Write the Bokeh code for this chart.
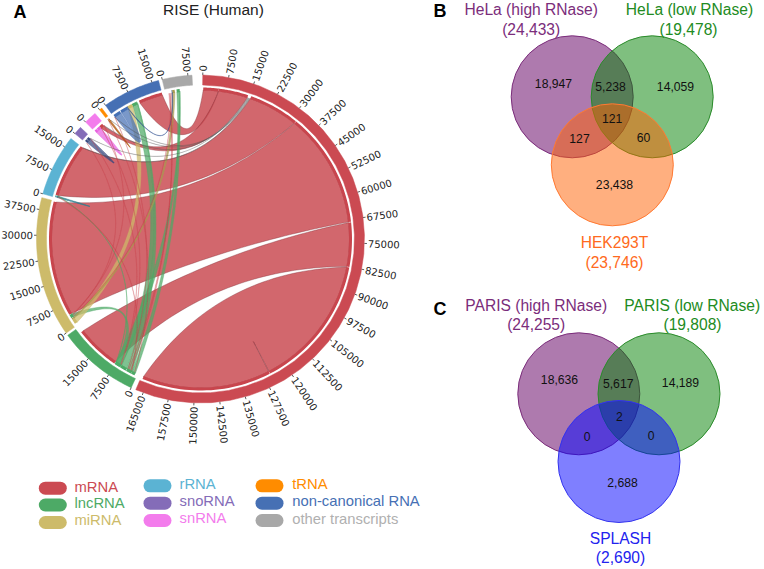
import math
from bokeh.plotting import figure
from bokeh.models import Range1d
from bokeh.core.properties import value
from bokeh.embed import file_html
from bokeh.resources import INLINE

# ---------- data ----------
SECTORS = ["mRNA", "lncRNA", "miRNA", "rRNA", "snoRNA", "snRNA", "tRNA", "non-canonical RNA", "other transcripts"]
SECTOR_SIZE = [167300, 24000, 41000, 18000, 2400, 3700, 800, 17000, 8700]
SECTOR_COLOR = ["#CB4A52", "#4DAA66", "#CDBB6A", "#5BB3D3", "#846CB8", "#F37CEC", "#FF8C00", "#4670B4", "#A8A8A8"]
TICKS = {
    "mRNA": [0, 7500, 15000, 22500, 30000, 37500, 45000, 52500, 60000, 67500, 75000, 82500, 90000, 97500, 105000,
             112500, 120000, 127500, 135000, 142500, 150000, 157500, 165000],
    "lncRNA": [0, 7500, 15000],
    "miRNA": [0, 7500, 15000, 22500, 30000, 37500],
    "rRNA": [0, 7500, 15000],
    "snoRNA": [0],
    "snRNA": [0],
    "tRNA": [0],
    "non-canonical RNA": [0, 7500, 15000],
    "other transcripts": [0, 7500],
}
RED, GRN, YEL, BLU = "#C8454D", "#4DAA66", "#CDBB6A", "#4670B4"
NC, OT = "non-canonical RNA", "other transcripts"
BIG_LINKS = [
    (NC, 9400, 17000, "mRNA", 200, 5100),
    ("snRNA", 2100, 3300, "mRNA", 5100, 14500),
    ("rRNA", 800, 18000, "mRNA", 15500, 31600),
    ("miRNA", 4100, 40800, "mRNA", 31700, 68300),
    ("lncRNA", 8000, 22300, "mRNA", 68500, 82500),
    ("mRNA", 82700, 125500, "mRNA", 125600, 166700),
]
SMALL_LINKS = [
    ("lncRNA", 3800, 5800, NC, 6900, 8600, GRN),
    ("lncRNA", 700, 1900, OT, 3600, 4500, GRN),
    ("lncRNA", 5800, 7900, OT, 4500, 4650, GRN),
    ("lncRNA", 1900, 3700, NC, 8600, 8750, GRN),
    ("miRNA", 2900, 4000, "lncRNA", 6300, 7600, GRN),
    ("miRNA", 800, 2400, NC, 5300, 6900, YEL),
    ("miRNA", 2400, 2800, OT, 2200, 3000, "#A89A50"),
    (NC, 300, 2600, NC, 2800, 5200, BLU),
    (NC, 5200, 5400, OT, 2000, 2200, "#2F4F90"),
    ("snRNA", 100, 900, "snRNA", 1000, 2100, "#E860E0"),
    ("tRNA", 100, 350, "tRNA", 400, 700, "#B05A10"),
    ("snoRNA", 300, 1000, "snoRNA", 1100, 1900, "#3A4A80"),
    ("rRNA", 100, 300, "rRNA", 350, 600, "#2F7F8F"),
    ("rRNA", 620, 720, "lncRNA", 7700, 7800, GRN),
]
HAIR_LINKS = [
    ("snoRNA", 1950, 2050, "mRNA", 14600, 14650, "#555555"),
    ("snRNA", 3350, 3450, "mRNA", 14800, 14850, "#555555"),
    ("tRNA", 700, 780, "mRNA", 15000, 15050, "#555555"),
    (NC, 100, 200, "mRNA", 15200, 15250, "#555555"),
    ("rRNA", 17900, 18000, "mRNA", 15350, 15400, "#555555"),
    (OT, 1000, 1150, "lncRNA", 2400, 2600, RED),
    (OT, 1300, 1450, "lncRNA", 3000, 3200, RED),
    (OT, 1700, 1800, "miRNA", 3000, 3100, RED),
    (NC, 200, 300, "lncRNA", 3400, 3500, RED),
    ("snRNA", 2200, 2300, "lncRNA", 5900, 6000, RED),
    ("snoRNA", 1950, 2050, "lncRNA", 6100, 6200, RED),
    ("snoRNA", 100, 200, "miRNA", 3400, 3500, RED),
    ("snRNA", 3400, 3500, "miRNA", 3600, 3700, RED),
    ("rRNA", 300, 500, "lncRNA", 2000, 2200, RED),
    ("tRNA", 50, 100, "lncRNA", 1000, 1100, RED),
]

VENN_B_TITLES = ["HeLa (high RNase)", "HeLa (low RNase)", "HEK293T"]
VENN_B_TOTALS = ["(24,433)", "(19,478)", "(23,746)"]
VENN_B_COUNTS = ["18,947", "5,238", "14,059", "121", "127", "60", "23,438"]
VENN_C_TITLES = ["PARIS (high RNase)", "PARIS (low RNase)", "SPLASH"]
VENN_C_TOTALS = ["(24,255)", "(19,808)", "(2,690)"]
VENN_C_COUNTS = ["18,636", "5,617", "14,189", "2", "0", "0", "2,688"]

# ---------- layout ----------
W, H = 764, 569
CX, CY = 200.0, 238.5
DEG_PER_UNIT = 0.00121
SECTOR_START = [0.8, 205.0, 235.0, 286.0, 310.0, 315.5, 322.0, 324.6, 346.5]
START = dict(zip(SECTORS, SECTOR_START))
R_OUT, R_IN, R_STRIP, R_LINK = 164.0, 154.0, 151.5, 149.0
SANS = value("Liberation Sans")


def th(sec, v):
    return START[sec] + v * DEG_PER_UNIT


def pt(t, r):
    a = math.radians(t)
    return CX + r * math.sin(a), CY - r * math.cos(a)


def arc(t0, t1, r, n=30):
    return [pt(t0 + (t1 - t0) * i / n, r) for i in range(n + 1)]


def bez(t0, t1, r, n=40):
    diff = (t1 - t0 + 540) % 360 - 180
    d = abs(diff)
    rc = 82 * (1 - d / 180)
    p0, p2 = pt(t0, r), pt(t1, r)
    c = pt(t0 + diff / 2, rc)
    out = []
    for i in range(n + 1):
        u = i / n
        out.append(((1 - u) ** 2 * p0[0] + 2 * u * (1 - u) * c[0] + u * u * p2[0],
                    (1 - u) ** 2 * p0[1] + 2 * u * (1 - u) * c[1] + u * u * p2[1]))
    return out


def ribbon(sa, a0, a1, sb, b0, b1):
    ta0, ta1, tb0, tb1 = th(sa, a0), th(sa, a1), th(sb, b0), th(sb, b1)
    pts = arc(ta0, ta1, R_LINK) + bez(ta1, tb0, R_LINK) + arc(tb0, tb1, R_LINK) + bez(tb1, ta0, R_LINK)
    return [q[0] for q in pts], [q[1] for q in pts]


def band(t0, t1, r0, r1):
    pts = arc(t0, t1, r1) + arc(t1, t0, r0)
    return [q[0] for q in pts], [q[1] for q in pts]


p = figure(width=W, height=H, x_range=Range1d(0, W), y_range=Range1d(H, 0),
           output_backend="svg", toolbar_location=None, min_border=0)
p.axis.visible = False
p.grid.visible = False
p.outline_line_color = None

# ---------- sectors ----------
xs, ys = zip(*[band(th(s, 0), th(s, z), R_IN, R_OUT) for s, z in zip(SECTORS, SECTOR_SIZE)])
p.patches(list(xs), list(ys), fill_color=SECTOR_COLOR, line_color=SECTOR_COLOR, line_width=0.5)

# ---------- links ----------
gx, gy = zip(*[ribbon(*l) for l in BIG_LINKS])
p.patches(list(gx), list(gy), fill_color=RED, fill_alpha=0.82, line_color="#7A2E34", line_alpha=0.6, line_width=0.6)
for group, alpha, lw in ((SMALL_LINKS, 0.72, 0.5), (HAIR_LINKS, 0.42, 0.5)):
    sx, sy = zip(*[ribbon(*l[:6]) for l in group])
    cols = [l[6] for l in group]
    p.patches(list(sx), list(sy), fill_color=cols, fill_alpha=alpha, line_color=cols, line_alpha=alpha, line_width=lw)

# strips at the link feet
sx, sy, sc = [], [], []
for l in BIG_LINKS + SMALL_LINKS:
    col = l[6] if len(l) > 6 else RED
    for s, v0, v1 in ((l[0], l[1], l[2]), (l[3], l[4], l[5])):
        bx, by = band(th(s, v0), th(s, v1), R_LINK - 0.5, R_STRIP)
        sx.append(bx); sy.append(by); sc.append(col)
p.patches(sx, sy, fill_color=sc, line_color=None)

# ---------- tick marks and labels ----------
mx0, my0, mx1, my1 = [], [], [], []
right = {"x": [], "y": [], "t": [], "a": []}
left = {"x": [], "y": [], "t": [], "a": []}
for s in SECTORS:
    for v in TICKS[s]:
        t = th(s, v)
        a0, a1 = pt(t, R_OUT), pt(t, R_OUT + 2.5)
        mx0.append(a0[0]); my0.append(a0[1]); mx1.append(a1[0]); my1.append(a1[1])
        lx, ly = pt(t, R_OUT + 3.5)
        tgt = right if t < 180 else left
        ang = 90 - t if t < 180 else 270 - t
        tgt["x"].append(lx); tgt["y"].append(ly); tgt["t"].append(str(v)); tgt["a"].append(math.radians(ang))
p.segment(mx0, my0, mx1, my1, line_color="#333333", line_width=0.8)
for d, al in ((right, "left"), (left, "right")):
    p.text(d["x"], d["y"], text=d["t"], angle=d["a"], text_align=al, text_baseline="middle",
           text_font=value("DejaVu Sans"), text_font_size="10px", text_color="#222222")


def label(x, y, s, color="#000000", size="15.6px", style="normal", align="center"):
    p.text([x], [y], text=[s], text_font=SANS, text_font_size=size, text_color=color, text_font_style=style,
           text_align=align, text_baseline="middle")


label(213, 9, "RISE (Human)", "#222222", "15.5px")
label(13, 11.5, "A", "#000000", "18px", "bold", "left")
label(433, 10.5, "B", "#000000", "18px", "bold", "left")
label(433, 308.5, "C", "#000000", "18px", "bold", "left")

# ---------- legend ----------
LEG_X = [38.3, 38.3, 38.3, 143, 143, 143, 255, 255, 255]
LEG_Y = [487.7, 504.5, 522, 485.3, 502.7, 520, 485.3, 502.7, 520]
TXT_X = [74, 74, 74, 179, 179, 179, 291.7, 291.7, 291.7]
TXT_Y = [486, 502.5, 519, 483, 500, 517, 483, 500, 518]
for i, s in enumerate(SECTORS):
    p.line([LEG_X[i] + 6.5, LEG_X[i] + 21.5], [LEG_Y[i], LEG_Y[i]], line_color=SECTOR_COLOR[i], line_width=13,
           line_cap="round")
    label(TXT_X[i], TXT_Y[i], s, SECTOR_COLOR[i] if s != OT else "#B0B0B0", "14.8px", align="left")

# ---------- Venn diagrams ----------
PURPLE, GREEN, ORANGE, BLUE = "#782178", "#008000", "#FF6000", "#0000FF"
VENN_R = 61.0
for cxs, cys, cols, lines in (
    ([571.7, 651.7, 611.8], [96.3, 96.3, 164.3], [PURPLE, GREEN, ORANGE], ["#7B2D7B", "#2A8B2A", "#FF7A33"]),
    ([578.3, 658.5, 618.5], [393.3, 393.3, 461.0], [PURPLE, GREEN, BLUE], ["#7B2D7B", "#2A8B2A", "#3333EE"]),
):
    for x, y, c, lc, al in zip(cxs, cys, cols, lines, (0.6, 0.5, 0.5)):
        p.circle([x], [y], radius=VENN_R, fill_color=c, fill_alpha=al, line_color=lc, line_width=1)

T_PURPLE, T_GREEN, T_ORANGE, T_BLUE = "#7B2D7B", "#228B22", "#FF6A20", "#2222EE"
for (tx, ty), (vx, vy), s, v, c in zip([(530.7, 9), (689, 9), (614, 242)], [(530.7, 28.5), (688, 29), (614, 262)],
                                       VENN_B_TITLES, VENN_B_TOTALS, [T_PURPLE, T_GREEN, T_ORANGE]):
    label(tx, ty, s, c); label(vx, vy, v, c)
for (tx, ty), (vx, vy), s, v, c in zip([(535.7, 305), (691.7, 305), (620, 537.7)], [(535.7, 324), (692, 324), (620, 557)],
                                       VENN_C_TITLES, VENN_C_TOTALS, [T_PURPLE, T_GREEN, T_BLUE]):
    label(tx, ty, s, c); label(vx, vy, v, c)

B_POS = [(553, 83), (610, 86), (675, 86), (611.7, 118), (579, 138), (643, 137), (614, 184)]
C_POS = [(559, 379), (617.7, 383), (680, 381.7), (619, 416), (586.7, 435.7), (650.7, 435), (622, 481.7)]
for pos, vals in ((B_POS, VENN_B_COUNTS), (C_POS, VENN_C_COUNTS)):
    for (x, y), v in zip(pos, vals):
        label(x, y, v, "#111111", "12.2px")

open("out.html", "w").write(file_html(p, INLINE))
